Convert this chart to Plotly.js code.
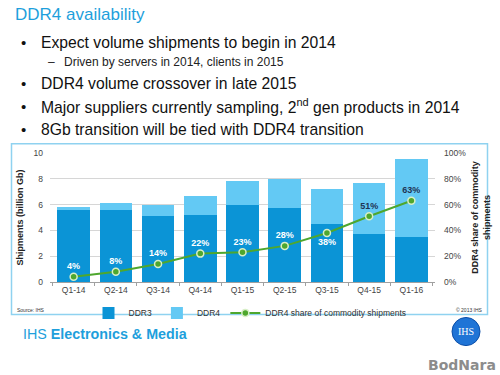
<!DOCTYPE html>
<html>
<head>
<meta charset="utf-8">
<script src="https://cdn.plot.ly/plotly-3.0.1.min.js"></script>
<style>html,body{margin:0;padding:0;background:#fff;}#chart{width:500px;height:375px;}</style>
</head>
<body>
<div id="chart"></div>
<script>
// ---- data ----
const quarters = ["Q1-14","Q2-14","Q3-14","Q4-14","Q1-15","Q2-15","Q3-15","Q4-15","Q1-16"];
const ddr3 = [5.57, 5.58, 5.12, 5.18, 6.0, 5.72, 4.47, 3.75, 3.5];
const ddr4 = [0.22, 0.52, 0.86, 1.45, 1.85, 2.26, 2.75, 3.92, 6.06];
const share = [4, 8, 14, 22, 23, 28, 38, 51, 63];
const shareLabels = ["4%","8%","14%","22%","23%","28%","38%","51%","63%"];
const seriesNames = ["DDR3", "DDR4", "DDR4 share of commodity shipments"];
const slideTitle = "DDR4 availability";
const bullets = [
  "Expect volume shipments to begin in 2014",
  "DDR4 volume crossover in late 2015",
  "Major suppliers currently sampling, 2<sup>nd</sup> gen products in 2014",
  "8Gb transition will be tied with DDR4 transition"
];
const subBullet = "Driven by servers in 2014, clients in 2015";

// ---- layout helpers (pixel -> paper) ----
const L = 50, R = 435, T = 153.3, B = 281.7;
const px = x => (x - L) / (R - L);
const py = y => (B - y) / (B - T);

const blue = "#1e9fdc";
const font = "Liberation Sans, Arial, sans-serif";

const traces = [
  {type: "bar", name: seriesNames[0], x: quarters, y: ddr3, marker: {color: "#0b94d6"}},
  {type: "bar", name: seriesNames[1], x: quarters, y: ddr4, marker: {color: "#63c9f4"}},
  {type: "scatter", name: seriesNames[2], x: quarters, y: share, yaxis: "y2",
   mode: "lines+markers+text", text: shareLabels,
   textposition: share.map((v, i) => i === 6 ? "bottom center" : "top center"),
   textfont: {family: font, size: 9, weight: "bold",
     color: share.map((v, i) => i >= 7 ? "#1f3555" : "#ffffff")},
   line: {color: "#4ea72e", width: 2},
   marker: {color: "#4ea72e", size: 7, line: {color: "#d8efc8", width: 1.5}},
   cliponaxis: false}
];

const ann = [];
const by = [43.5, 84, 107, 130];
bullets.forEach((b, i) => {
  ann.push({text: "•", xref: "paper", yref: "paper", x: px(23), y: py(by[i]),
    xanchor: "center", yanchor: "middle", showarrow: false,
    font: {family: font, size: 15, color: "#111"}});
  ann.push({text: b, xref: "paper", yref: "paper", x: px(39), y: py(by[i]),
    xanchor: "left", yanchor: "middle", showarrow: false,
    font: {family: font, size: 15.7, color: "#111"}});
});
ann.push({text: "–", xref: "paper", yref: "paper", x: px(51), y: py(63),
  xanchor: "center", yanchor: "middle", showarrow: false,
  font: {family: font, size: 12, color: "#222"}});
ann.push({text: subBullet, xref: "paper", yref: "paper", x: px(62), y: py(63),
  xanchor: "left", yanchor: "middle", showarrow: false,
  font: {family: font, size: 12, color: "#222"}});
ann.push({text: "Source: IHS", xref: "paper", yref: "paper", x: px(15), y: py(310),
  xanchor: "left", yanchor: "middle", showarrow: false,
  font: {family: font, size: 5, color: "#333"}});
ann.push({text: "© 2013 IHS", xref: "paper", yref: "paper", x: px(485), y: py(310),
  xanchor: "right", yanchor: "middle", showarrow: false,
  font: {family: font, size: 5, color: "#333"}});
ann.push({text: "IHS <b>Electronics & Media</b>", xref: "paper", yref: "paper", x: px(21), y: py(333),
  xanchor: "left", yanchor: "middle", showarrow: false,
  font: {family: font, size: 14.3, color: blue}});
ann.push({text: "IHS", xref: "paper", yref: "paper", x: px(466), y: py(331),
  xanchor: "center", yanchor: "middle", showarrow: false,
  font: {family: "Liberation Serif, serif", size: 10, color: "#ffffff"}});
ann.push({text: "<b>BodNara</b>", xref: "paper", yref: "paper", x: px(462), y: py(364),
  xanchor: "center", yanchor: "middle", showarrow: false,
  font: {family: "DejaVu Sans, sans-serif", size: 14, color: "#8c8c8c"}});

const shapes = [
  {type: "rect", xref: "paper", yref: "paper", x0: px(11.5), x1: px(487.5), y0: py(314), y1: py(144),
   line: {color: "#8fd2f0", width: 1.5}, fillcolor: "rgba(0,0,0,0)", layer: "below"},
  {type: "circle", xref: "paper", yref: "paper", x0: px(452), x1: px(480), y0: py(345), y1: py(317),
   line: {color: "#0d4fa8", width: 1}, fillcolor: "#1f74d6"}
];

const layout = {
  width: 500, height: 375,
  margin: {l: L, r: 500 - R, t: T, b: 375 - B, pad: 0},
  paper_bgcolor: "#ffffff", plot_bgcolor: "#ffffff",
  title: {text: slideTitle, xref: "container", yref: "container", x: 15 / 500, xanchor: "left",
    y: 1 - 14 / 375, yanchor: "middle", font: {family: font, size: 17, color: blue}},
  barmode: "stack", bargap: 0.23,
  font: {family: font, size: 8, color: "#444"},
  showlegend: true,
  legend: {orientation: "h", traceorder: "normal", x: px(250), xanchor: "center", y: py(298), yanchor: "top",
    font: {family: font, size: 8.5, color: "#333"}, bgcolor: "rgba(0,0,0,0)", itemwidth: 30},
  xaxis: {type: "category", showline: true, linecolor: "#a0a0a0", linewidth: 1,
    ticks: "outside", tickson: "boundaries", ticklen: 3, tickcolor: "#a0a0a0",
    tickfont: {size: 8.5, color: "#444"}, showgrid: false, fixedrange: true},
  yaxis: {range: [0, 10], dtick: 2, showgrid: true, gridcolor: "#d6d6d6", gridwidth: 1,
    zeroline: false, ticks: "", tickfont: {size: 8.5, color: "#444"}, ticklabelstandoff: 6,
    title: {text: "<b>Shipments (billion Gb)</b>", font: {size: 9, color: "#222"}, standoff: 8}},
  yaxis2: {range: [0, 100], dtick: 20, ticksuffix: "%", overlaying: "y", side: "right",
    showgrid: false, zeroline: false, tickfont: {size: 8.5, color: "#444"}, ticklabelstandoff: 8,
    title: {text: "<b>DDR4 share of commodity<br>shipments</b>", font: {size: 9, color: "#222"}, standoff: 6}},
  annotations: ann,
  shapes: shapes
};

Plotly.newPlot("chart", traces, layout, {staticPlot: true, displayModeBar: false});
</script>
</body>
</html>
